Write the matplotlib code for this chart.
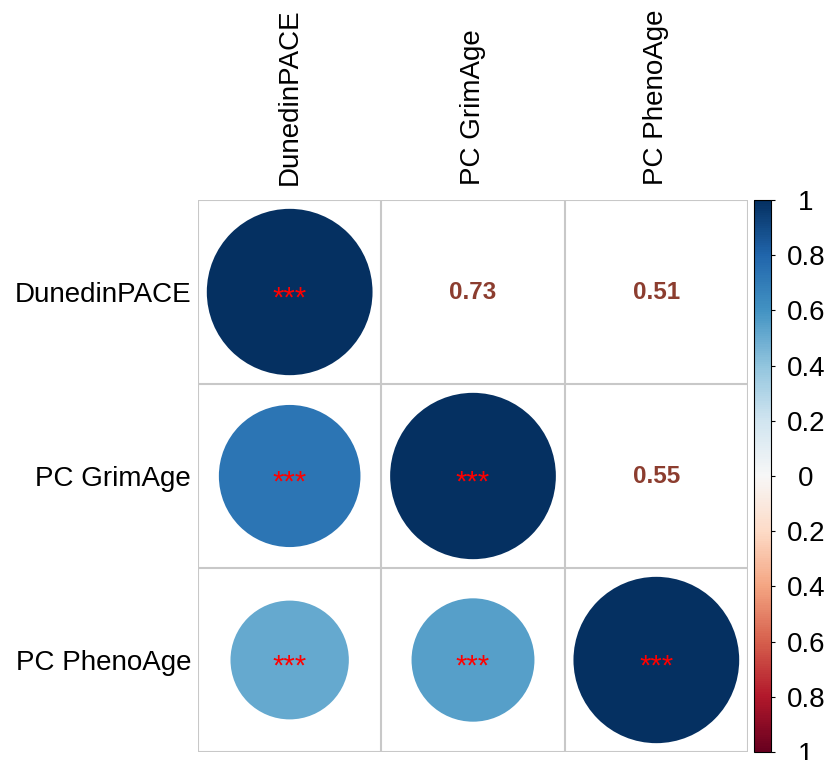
import numpy as np
import matplotlib.pyplot as plt
from matplotlib.patches import Circle
from matplotlib.colors import Normalize
from matplotlib.cm import ScalarMappable

plt.rcParams['font.family'] = ['Liberation Sans', 'DejaVu Sans']

labels = ['DunedinPACE', 'PC GrimAge', 'PC PhenoAge']
corr = np.array([
    [1.00, 0.73, 0.51],
    [0.73, 1.00, 0.55],
    [0.51, 0.55, 1.00],
])
stars = [
    ['***', '***', '***'],
    ['***', '***', '***'],
    ['***', '***', '***'],
]
cbar_ticks = [-1, -0.8, -0.6, -0.4, -0.2, 0, 0.2, 0.4, 0.6, 0.8, 1]

cmap = plt.get_cmap('RdBu')
norm = Normalize(vmin=-1, vmax=1)
n = len(labels)

fig = plt.figure(figsize=(8.34, 7.6), dpi=100)
ax = fig.add_axes([198 / 834, 1 - 752 / 760, 550 / 834, 552 / 760])
ax.set_xlim(-0.5, n - 0.5)
ax.set_ylim(n - 0.5, -0.5)

# cell grid
for k in range(n + 1):
    ax.axhline(k - 0.5, color='#c8c8c8', lw=1.5, zorder=1)
    ax.axvline(k - 0.5, color='#c8c8c8', lw=1.5, zorder=1)

for i in range(n):
    for j in range(n):
        r = corr[i, j]
        if j <= i:
            # lower triangle + diagonal: circles, area ~ |r|
            ax.add_patch(Circle((j, i), 0.452 * np.sqrt(abs(r)),
                                color=cmap(norm(r)), lw=0, zorder=2))
            ax.annotate(stars[i][j], (j, i), xytext=(0, -10.5),
                        textcoords='offset points', ha='center',
                        va='baseline', color='red', fontsize=21, zorder=3)
        else:
            ax.text(j, i, f'{r:.2f}', ha='center', va='center',
                    color='#8c3d2f', fontsize=17.5, fontweight='bold')

for sp in ax.spines.values():
    sp.set_visible(False)
ax.set_xticks(range(n))
ax.set_yticks(range(n))
ax.set_xticklabels(labels, rotation=90, fontsize=20)
ax.set_yticklabels(labels, fontsize=20)
ax.xaxis.tick_top()
ax.tick_params(length=0, pad=11)
ax.tick_params(axis='y', pad=5)

# colour legend
cax = fig.add_axes([754 / 834, 1 - 752 / 760, 17 / 834, 552 / 760])
cb = fig.colorbar(ScalarMappable(norm=norm, cmap=cmap), cax=cax, ticks=cbar_ticks)
cb.ax.set_yticklabels([f'{abs(t):g}' for t in cbar_ticks], fontsize=20, ha='center')
cb.ax.tick_params(length=3, width=0.8, pad=22)
cb.outline.set_linewidth(0.8)

fig.savefig('out.png', dpi=100)
